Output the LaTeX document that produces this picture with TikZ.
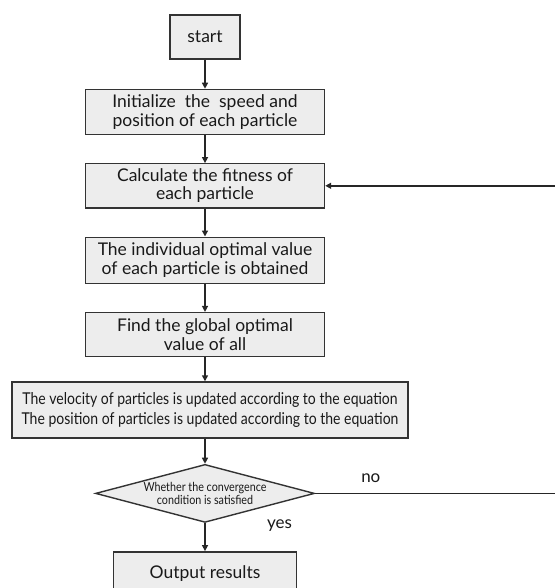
\documentclass[tikz,border=0pt]{standalone}
\usepackage{fontspec}
\setmainfont{Lato}
\newfontfamily\narrowfont[FakeStretch=0.86]{Lato}
\usepackage{tikz}
\usetikzlibrary{arrows.meta, positioning, shapes.geometric}

\begin{document}
\begin{tikzpicture}[
      x=1pt, y=-1pt,
      node distance=28pt,
      box/.style={draw=black!80, line width=1.4pt, fill=black!7, align=center,
        minimum width=239pt, minimum height=44pt, inner sep=2pt,
        font=\fontsize{17.5}{18.5}\selectfont, text=black!90},
      decide/.style={diamond, draw=black!80, line width=1.4pt, fill=black!7,
        align=center, aspect=3.8, minimum width=219pt, minimum height=58pt, inner sep=-5pt,
        font=\narrowfont\fontsize{12.5}{13}\selectfont, text=black!90},
      arr/.style={-{Triangle[length=6pt, width=6pt]}, line width=1.4pt, draw=black!85},
      lbl/.style={font=\fontsize{17}{18}\selectfont, text=black!90}
    ]
    \useasboundingbox (0,0) rectangle (554,588);
    \node[box, minimum width=70pt] (start) at (205,37) {start};
    \node[box, minimum height=45pt, below=29pt of start] (init) {Initialize \ the \ speed and\\position of each particle};
    \node[box, below=of init] (fit) {Calculate the fitness of\\each particle};
    \node[box, minimum height=46pt, below=of fit] (pbest) {The individual optimal value\\of each particle is obtained};
    \node[box, below=of pbest] (gbest) {Find the global optimal\\value of all};
    \node[box, minimum width=396pt, minimum height=56pt, font=\narrowfont\fontsize{16.3}{20}\selectfont,
      below=24pt of gbest, xshift=5pt] (update) {The velocity of particles is updated according to the equation\\The position of particles is updated according to the equation};
    \node[decide, below=25pt of update.south -| gbest.south] (conv) {Whether the convergence\\condition is satisfied};
    \node[box, minimum width=183pt, below=28pt of conv] (out) {Output results};
    \coordinate (back) at (557,0);

    \draw[arr] (start) -- (init);
    \draw[arr] (init) -- (fit);
    \draw[arr] (fit) -- (pbest);
    \draw[arr] (pbest) -- (gbest);
    \draw[arr] (gbest) -- (gbest |- update.north);
    \draw[arr] (update.south -| conv) -- (conv);
    \draw[arr] (conv) -- node[lbl, right=58pt, pos=0.1] (yes) {yes} (out);
    \draw[arr] (conv.east) -- node[lbl, above=7pt, pos=0.23] (no) {no} (conv.east -| back) |- (fit.east);
  \end{tikzpicture}
\end{document}
